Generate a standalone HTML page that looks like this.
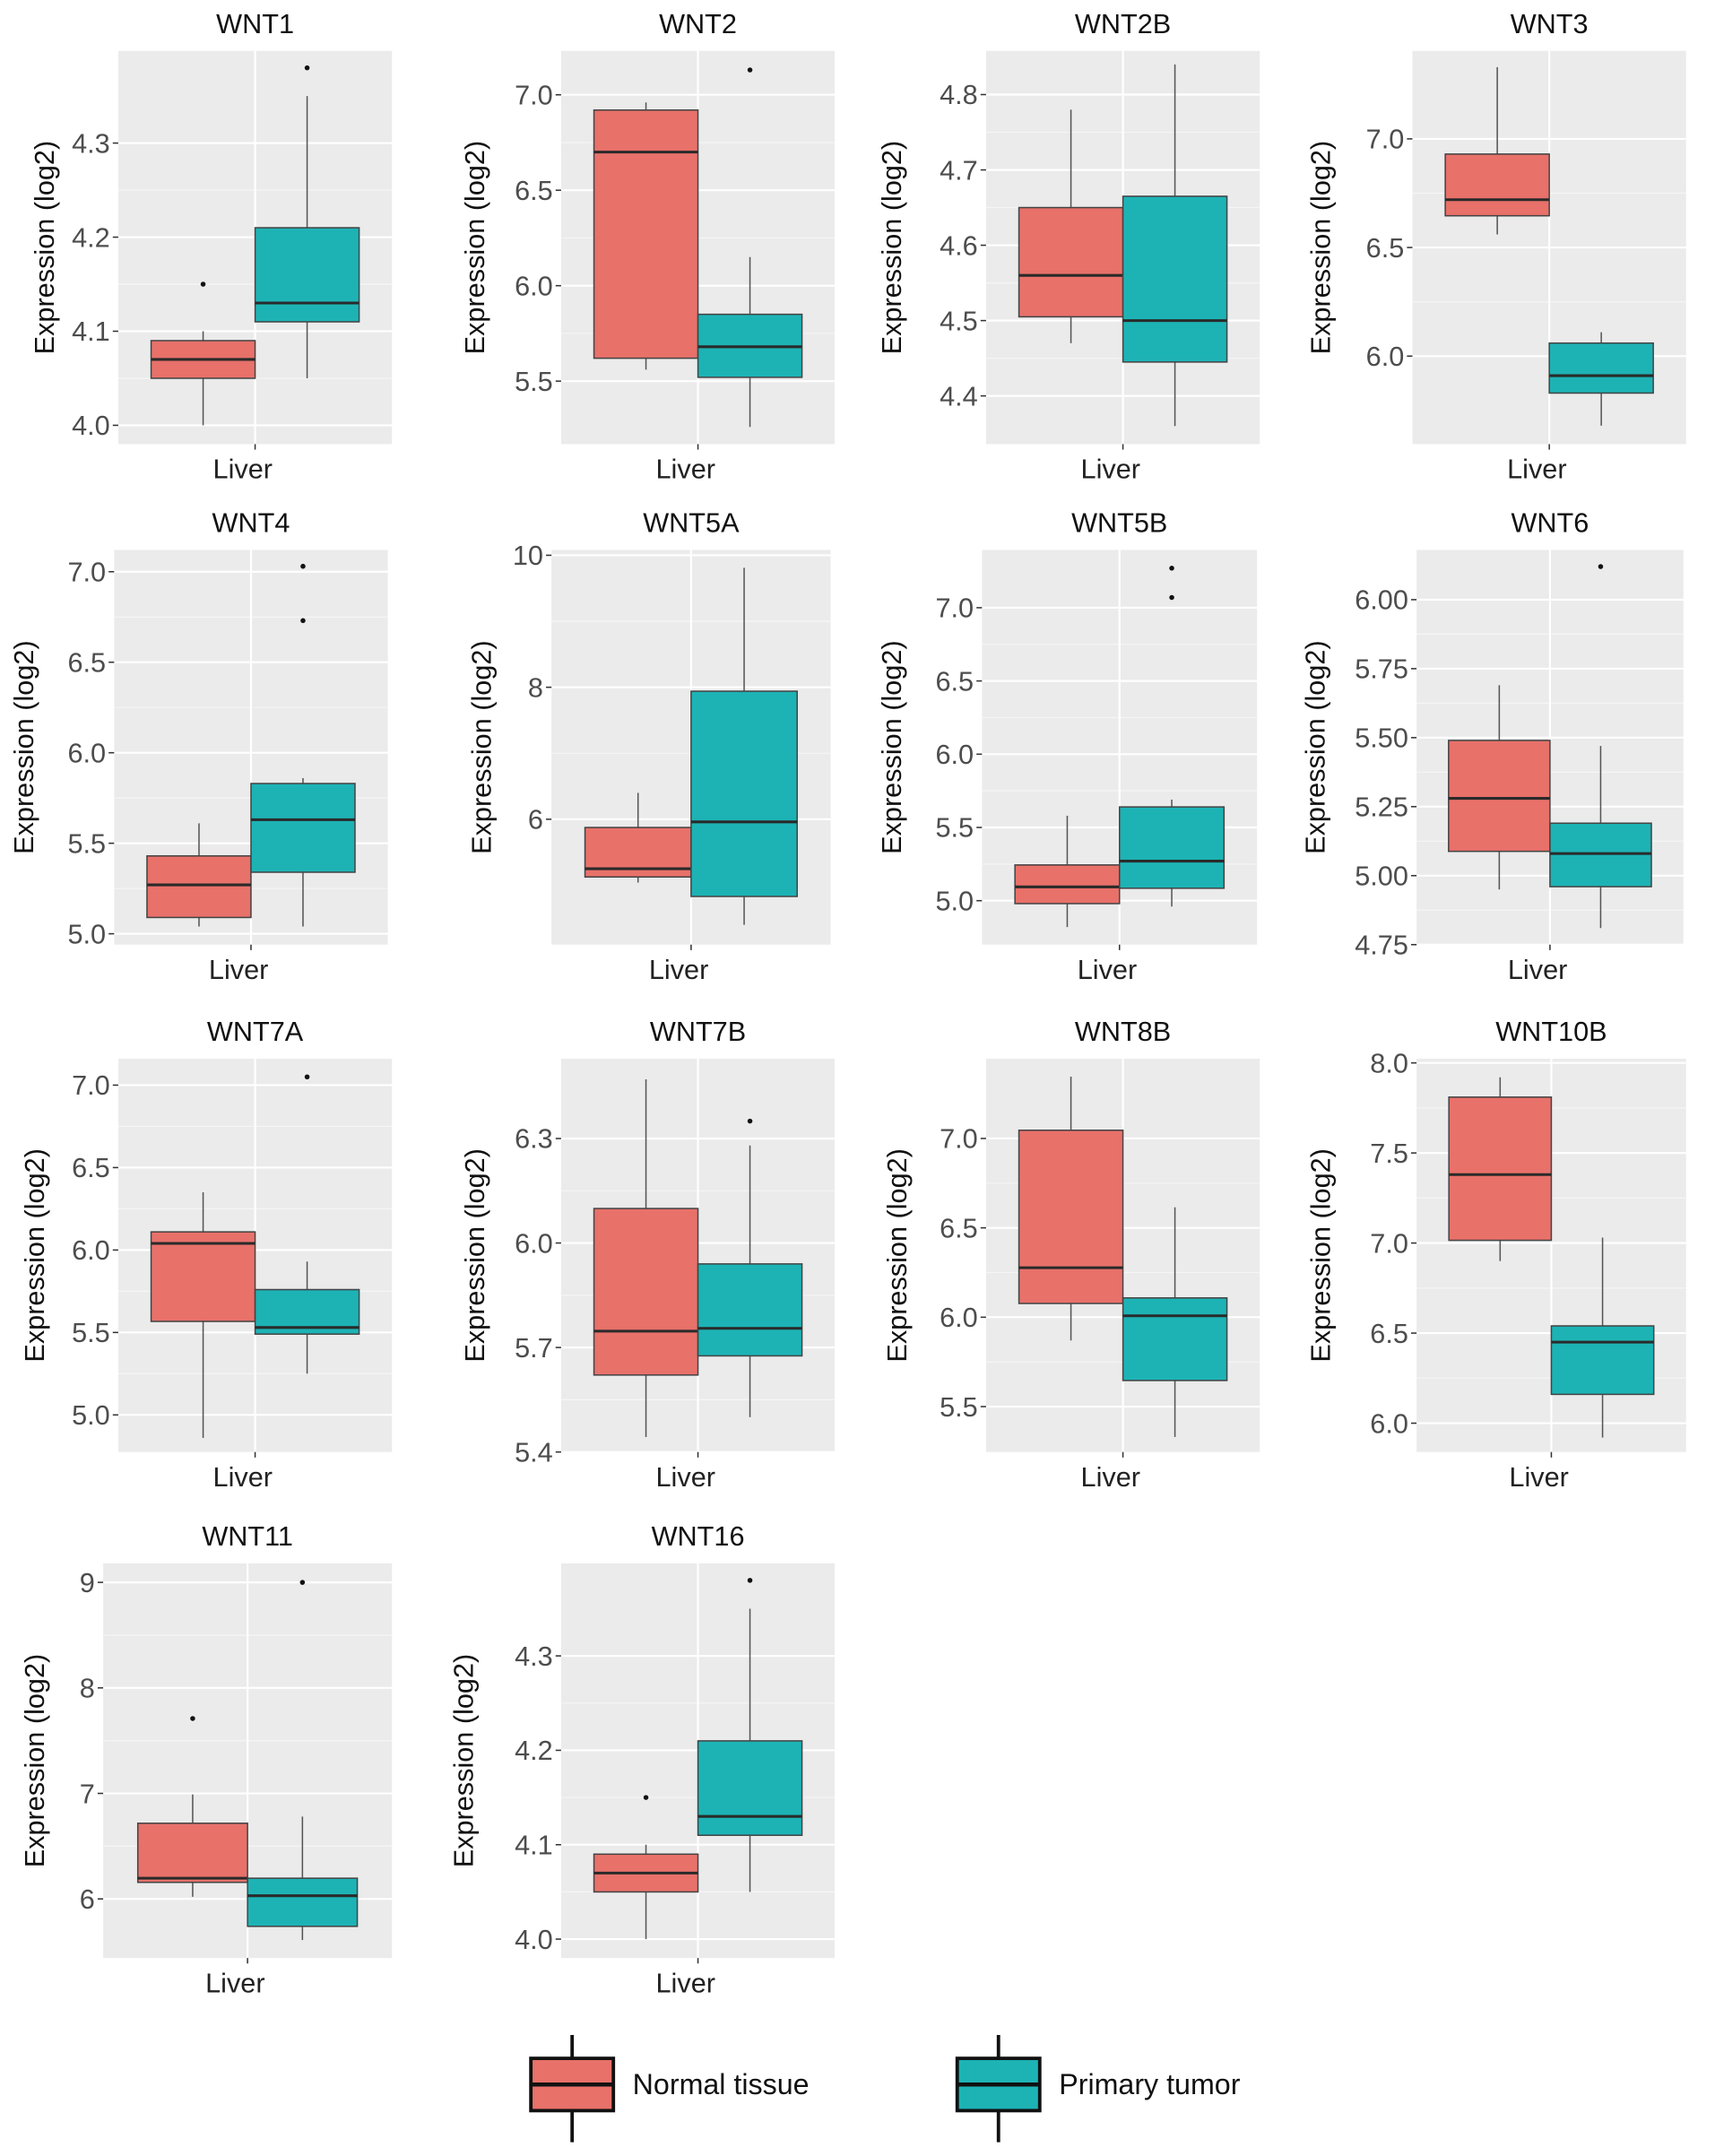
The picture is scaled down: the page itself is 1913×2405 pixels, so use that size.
<!DOCTYPE html>
<html><head><meta charset="utf-8"><style>
html,body{margin:0;padding:0;background:#fff;}
svg{display:block;font-family:"Liberation Sans",sans-serif;}
</style></head><body>
<svg id="chart" width="1913" height="2405" viewBox="0 0 1247 1568" preserveAspectRatio="none" xmlns="http://www.w3.org/2000/svg"></svg>
<script>
// ---- data ----
const genes = ["WNT1","WNT2","WNT2B","WNT3","WNT4","WNT5A","WNT5B","WNT6","WNT7A","WNT7B","WNT8B","WNT10B","WNT11","WNT16"];
// [whiskerLow, q1, median, q3, whiskerHigh]
const normalStats = [
 [4.00,4.05,4.07,4.09,4.10],[5.56,5.62,6.70,6.92,6.96],[4.47,4.505,4.56,4.65,4.78],[6.56,6.646,6.72,6.93,7.33],
 [5.04,5.09,5.27,5.43,5.61],[5.04,5.125,5.25,5.875,6.40],[4.82,4.98,5.094,5.244,5.58],[4.95,5.088,5.28,5.49,5.69],
 [4.86,5.567,6.04,6.11,6.35],[5.443,5.621,5.747,6.099,6.47],[5.87,6.077,6.277,7.046,7.346],[6.90,7.015,7.38,7.81,7.92],
 [6.02,6.157,6.196,6.717,6.99],[4.00,4.05,4.07,4.09,4.10]];
const tumorStats = [
 [4.05,4.11,4.13,4.21,4.35],[5.26,5.52,5.68,5.85,6.15],[4.36,4.445,4.50,4.665,4.84],[5.68,5.83,5.91,6.06,6.11],
 [5.04,5.34,5.63,5.83,5.86],[4.40,4.83,5.96,7.94,9.81],[4.96,5.085,5.27,5.64,5.69],[4.81,4.96,5.08,5.19,5.47],
 [5.25,5.49,5.53,5.76,5.93],[5.50,5.676,5.755,5.94,6.28],[5.33,5.646,6.008,6.108,6.615],[5.92,6.16,6.45,6.54,7.03],
 [5.61,5.74,6.03,6.196,6.78],[4.05,4.11,4.13,4.21,4.35]];
const normalOutliers = [[4.15],[],[],[],[],[],[],[],[],[],[],[],[7.71],[4.15]];
const tumorOutliers = [[4.38],[7.13],[],[],[6.73,7.03],[],[7.07,7.27],[6.12],[7.05],[6.35],[],[],[9.0],[4.38]];
const yTicks = [
 ["4.0","4.1","4.2","4.3"],["5.5","6.0","6.5","7.0"],["4.4","4.5","4.6","4.7","4.8"],["6.0","6.5","7.0"],
 ["5.0","5.5","6.0","6.5","7.0"],["6","8","10"],["5.0","5.5","6.0","6.5","7.0"],["4.75","5.00","5.25","5.50","5.75","6.00"],
 ["5.0","5.5","6.0","6.5","7.0"],["5.4","5.7","6.0","6.3"],["5.5","6.0","6.5","7.0"],["6.0","6.5","7.0","7.5","8.0"],
 ["6","7","8","9"],["4.0","4.1","4.2","4.3"]];
const yRanges = [[3.98,4.398],[5.17,7.23],[4.336,4.858],[5.595,7.405],[4.94,7.12],[4.10,10.08],[4.70,7.394],[4.75,6.18],
 [4.775,7.16],[5.4,6.529],[5.246,7.446],[5.84,8.023],[5.44,9.18],[3.98,4.398]];
// ---- layout ----
const panels = [
 [86,285,37,323,32],[408,607,37,323,345],[717,916,37,323,648],[1027,1226,37,323,960],
 [83,282,400,687,17],[401,604,400,687,350],[714,914,400,687,648],[1030,1224,400,687,956],
 [86,285,770,1056,25],[408,607,770,1056,345],[717,916,770,1056,652],[1030,1226,770,1056,960],
 [75,285,1137,1424,25],[408,607,1137,1424,337]];
const NS="http://www.w3.org/2000/svg";
const svg=document.getElementById('chart');
function mk(tag,attrs,parent){const e=document.createElementNS(NS,tag);for(const k in attrs)e.setAttribute(k,attrs[k]);(parent||svg).appendChild(e);return e;}
const colN="#E8716A", colT="#1DB3B5";
genes.forEach((g,i)=>{
  const [x0,x1,y0,y1,tx]=panels[i];const [lo,hi]=yRanges[i];
  const W=x1-x0, cx=(x0+x1)/2;
  const ys=v=>y1-(v-lo)/(hi-lo)*(y1-y0);
  const grp=mk('g',{});
  
  
  const bg=mk('rect',{x:x0,y:y0,width:W,height:y1-y0,fill:"#EBEBEB"},grp);
  
  
  const tv=yTicks[i].map(Number);
  for(let k=0;k<tv.length-1;k++){const m=(tv[k]+tv[k+1])/2;mk('line',{x1:x0,x2:x1,y1:ys(m),y2:ys(m),stroke:"#F5F5F5","stroke-width":0.8},grp);}
  tv.forEach((v,k)=>{
    mk('line',{x1:x0,x2:x1,y1:ys(v),y2:ys(v),stroke:"#fff","stroke-width":1.4},grp);
    mk('line',{x1:x0-4,x2:x0,y1:ys(v),y2:ys(v),stroke:"#333","stroke-width":1},grp);
    const t=mk('text',{x:x0-6,y:ys(v)+7,"text-anchor":"end","font-size":20,fill:"#4D4D4D"},grp);
    t.textContent=yTicks[i][k];
    
    
  });
  mk('line',{x1:cx,x2:cx,y1:y0,y2:y1,stroke:"#fff","stroke-width":1.4},grp);
  mk('line',{x1:cx,x2:cx,y1:y1,y2:y1+4,stroke:"#333","stroke-width":1},grp);
  const bw=0.38*W;
  [[normalStats[i],normalOutliers[i],colN,cx-bw,'normal'],[tumorStats[i],tumorOutliers[i],colT,cx,'tumor']].forEach(([s,o,c,bx,nm])=>{
    const mx=bx+bw/2;
    mk('line',{x1:mx,x2:mx,y1:ys(s[0]),y2:ys(s[1]),stroke:"#555","stroke-width":1},grp);
    mk('line',{x1:mx,x2:mx,y1:ys(s[3]),y2:ys(s[4]),stroke:"#555","stroke-width":1},grp);
    const r=mk('rect',{x:bx,y:ys(s[3]),width:bw,height:ys(s[1])-ys(s[3]),fill:c,stroke:"#444","stroke-width":1},grp);
    
    
    mk('line',{x1:bx,x2:bx+bw,y1:ys(s[2]),y2:ys(s[2]),stroke:"#2a2a2a","stroke-width":2},grp);
    o.forEach(v=>{const p=mk('circle',{cx:mx,cy:ys(v),r:1.8,fill:"#111"},grp);
      
      });
  });
  const ti=mk('text',{x:cx,y:y0-13,"text-anchor":"middle","font-size":20,fill:"#111"},grp);
  ti.textContent=g;
  
  
  const xl=mk('text',{x:cx-9,y:y1+25,"text-anchor":"middle","font-size":20,fill:"#222"},grp);
  xl.textContent="Liver";
  
  
  const yt=mk('text',{x:0,y:0,"text-anchor":"middle","font-size":20,fill:"#111",transform:`translate(${tx+7},${(y0+y1)/2}) rotate(-90)`},grp);
  yt.textContent="Expression (log2)";
  
  
});
// legend
[["Normal tissue",colN,386,460],["Primary tumor",colT,696,770]].forEach(([lab,c,bx,tx])=>{
  const g=mk('g',{});
  
  
  mk('line',{x1:bx+30,x2:bx+30,y1:1480,y2:1558,stroke:"#111","stroke-width":2.5},g);
  mk('rect',{x:bx,y:1497,width:60,height:38,fill:c,stroke:"#111","stroke-width":2.5},g);
  mk('line',{x1:bx,x2:bx+60,y1:1516,y2:1516,stroke:"#111","stroke-width":3},g);
  const t=mk('text',{x:tx,y:1523,"font-size":21,fill:"#111"},g);
  t.textContent=lab;
});
</script>
</body></html>
